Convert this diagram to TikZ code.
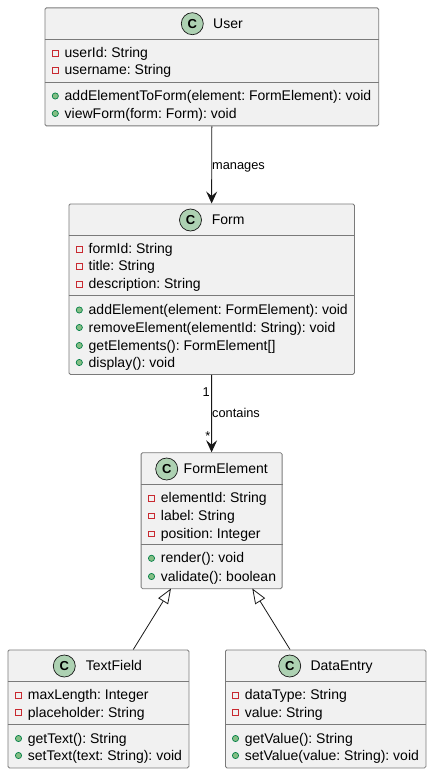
\documentclass[tikz,border=0pt]{standalone}
\usepackage{fontspec}
\setmainfont{Liberation Sans}
\usetikzlibrary{arrows.meta}
\definecolor{boxfill}{HTML}{F1F1F1}
\definecolor{boxline}{HTML}{7A7A7A}
\definecolor{ink}{HTML}{181818}
\definecolor{spot}{HTML}{ADD1B2}
\definecolor{privred}{HTML}{C82930}
\definecolor{pubfill}{HTML}{84BE84}
\definecolor{publine}{HTML}{038048}
\frenchspacing
\tikzset{
	classbox/.style={draw=boxline, fill=boxfill, line width=0.8pt, rounded corners=1.5pt, minimum width=#1, inner sep=0pt, anchor=north west},
	spotc/.style={circle, draw=ink, fill=spot, line width=0.7pt, minimum size=22pt, inner sep=0pt, font=\fontsize{13}{13}\selectfont\bfseries},
	member/.style={anchor=west, inner sep=0pt, text height=9.5pt, text depth=0.5pt, text=black, font=\fontsize{14}{15}\selectfont},
	tag/.style={member, font=\fontsize{12.8}{14}\selectfont},
	privicon/.style={draw=privred, line width=0.8pt, minimum size=5.6pt, inner sep=0pt},
	pubicon/.style={circle, draw=publine, fill=pubfill, line width=0.7pt, minimum size=6.2pt, inner sep=0pt},
	sepline/.style={draw=boxline, line width=0.8pt},
	assoc/.style={draw=ink, line width=0.9pt, -{Stealth[length=12pt, width=11pt, inset=4.5pt]}},
	extends/.style={draw=ink, line width=0.8pt, -{Triangle[open, length=15pt, width=11.5pt, fill=white]}},
}
\newcommand{\privrow}[3]{\node[privicon] at (#1,#2) {}; \node[member] at (#1+9.2,#2) {#3};}
\newcommand{\pubrow}[3]{\node[pubicon] at (#1,#2) {}; \node[member] at (#1+9.2,#2) {#3};}
\begin{document}
\begin{tikzpicture}[x=1pt, y=-1pt]
		\useasboundingbox (0,0) rectangle (431,773);
		
		%USER
		\node[classbox=333.8pt, minimum height=118pt] (user) at (44.5,7.5) {};
		\draw[sepline] (user.west |- 0,39.5) -- (user.east |- 0,39.5);
		\draw[sepline] (user.west |- 0,82.5) -- (user.east |- 0,82.5);
		\node[spotc] (userspot) at (192.3,23.7) {C};
		\node[member] (username) at (213,24) {User};
		\privrow{55.3}{53.5}{userId: String}
		\privrow{55.3}{70.5}{username: String}
		\pubrow{55.3}{96}{addElementToForm(element: FormElement): void}
		\pubrow{55.3}{113.5}{viewForm(form: Form): void}
		
		%FORM
		\node[classbox=285.5pt, minimum height=170.5pt] (form) at (68.5,203.5) {};
		\draw[sepline] (form.west |- 0,235.5) -- (form.east |- 0,235.5);
		\draw[sepline] (form.west |- 0,295.5) -- (form.east |- 0,295.5);
		\node[spotc] (formspot) at (190.5,220) {C};
		\node[member] (formname) at (211.7,220) {Form};
		\privrow{79.3}{249.3}{formId: String}
		\privrow{79.3}{266.3}{title: String}
		\privrow{79.3}{284.3}{description: String}
		\pubrow{79.3}{310}{addElement(element: FormElement): void}
		\pubrow{79.3}{327.5}{removeElement(elementId: String): void}
		\pubrow{79.3}{345.5}{getElements(): FormElement[]}
		\pubrow{79.3}{362.5}{display(): void}
		
		%FORMELEMENT
		\node[classbox=141pt, minimum height=136pt] (formelement) at (140.7,452.3) {};
		\draw[sepline] (formelement.west |- 0,484.3) -- (formelement.east |- 0,484.3);
		\draw[sepline] (formelement.west |- 0,544.3) -- (formelement.east |- 0,544.3);
		\node[spotc] (elementspot) at (166.7,469) {C};
		\node[member] (elementname) at (183.5,469) {FormElement};
		\privrow{151.5}{498.3}{elementId: String}
		\privrow{151.5}{515.7}{label: String}
		\privrow{151.5}{533.7}{position: Integer}
		\pubrow{151.5}{558.3}{render(): void}
		\pubrow{151.5}{576.5}{validate(): boolean}
		
		%TEXTFIELD
		\node[classbox=181pt, minimum height=118pt] (textfield) at (7.5,649.5) {};
		\draw[sepline] (textfield.west |- 0,681.5) -- (textfield.east |- 0,681.5);
		\draw[sepline] (textfield.west |- 0,724.5) -- (textfield.east |- 0,724.5);
		\node[spotc] (textspot) at (64.3,666) {C};
		\node[member] (textname) at (85.7,666) {TextField};
		\privrow{18.5}{695.3}{maxLength: Integer}
		\privrow{18.5}{712.5}{placeholder: String}
		\pubrow{18.5}{738.5}{getText(): String}
		\pubrow{18.5}{755.5}{setText(text: String): void}
		
		%DATAENTRY
		\node[classbox=200.5pt, minimum height=118pt] (dataentry) at (225,649.5) {};
		\draw[sepline] (dataentry.west |- 0,681.5) -- (dataentry.east |- 0,681.5);
		\draw[sepline] (dataentry.west |- 0,724.5) -- (dataentry.east |- 0,724.5);
		\node[spotc] (dataspot) at (289.7,666) {C};
		\node[member] (dataname) at (310.3,666) {DataEntry};
		\privrow{235.5}{695.3}{dataType: String}
		\privrow{235.5}{712.5}{value: String}
		\pubrow{235.5}{738.5}{getValue(): String}
		\pubrow{235.5}{755.5}{setValue(value: String): void}
		
		%FRECCE
		\coordinate (texttip) at (171,588.5);
		\coordinate (datatip) at (252.3,588.5);
		\coordinate (textfoot) at (133.3,649.5);
		\coordinate (datafoot) at (290,649.5);
		\draw[assoc] (user.south) -- (form.north);
		\draw[assoc] (form.south) -- (formelement.north);
		\draw[extends] (textfoot) -- (texttip);
		\draw[extends] (datafoot) -- (datatip);
		
		%ETICHETTE
		\node[tag] (manages) at (212,165) {manages};
		\node[tag] (contains) at (212,413) {contains};
		\node[tag, anchor=east] (one) at (210,391.5) {1};
		\node[tag, anchor=east] (many) at (210.5,436) {*};
	\end{tikzpicture}
\end{document}
